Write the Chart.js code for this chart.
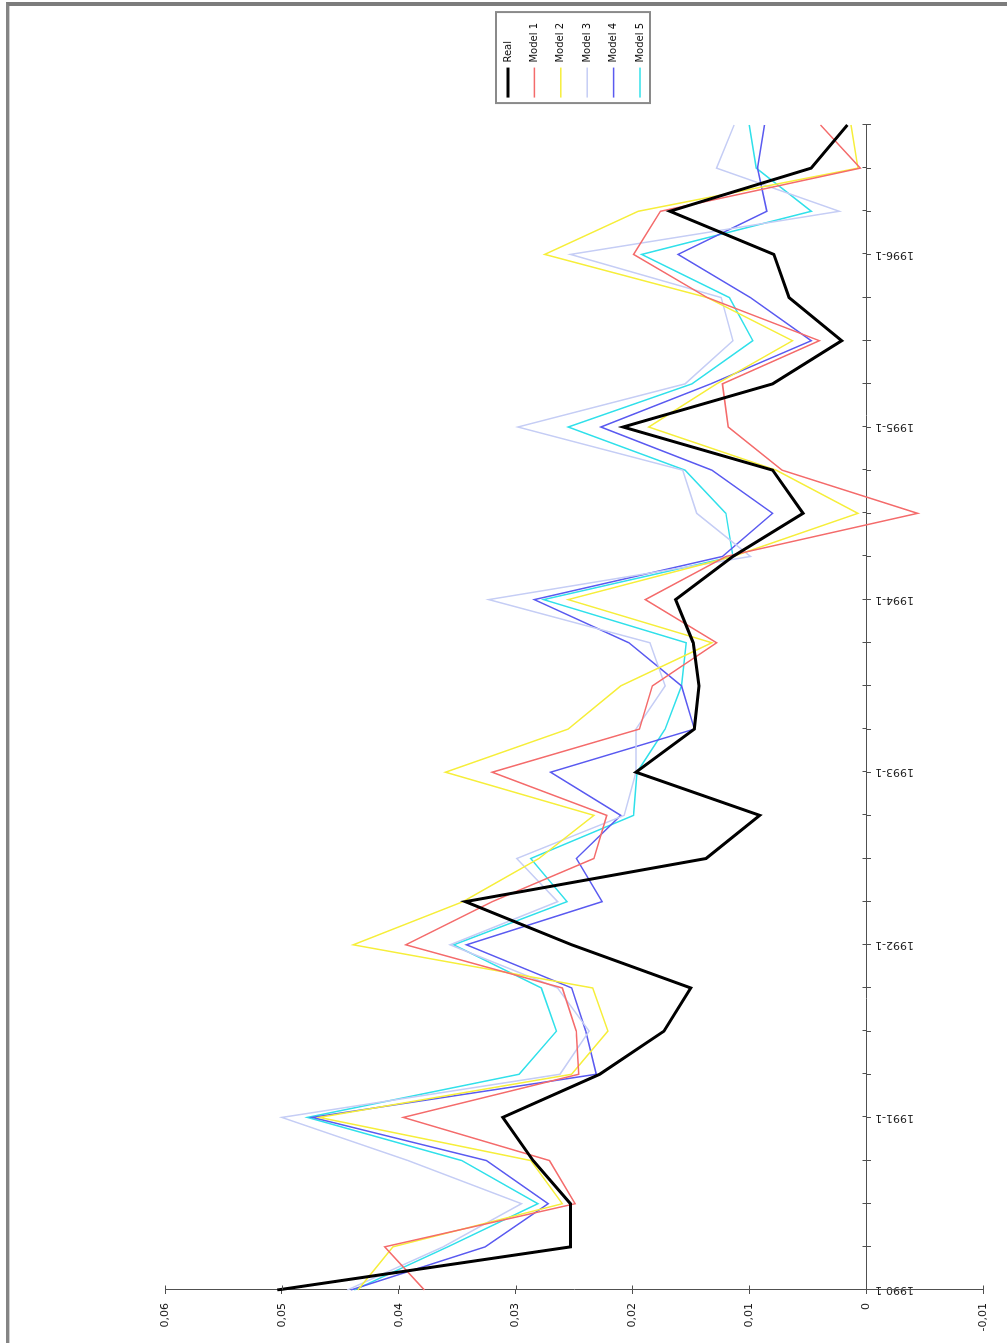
<!DOCTYPE html>
<html>
<head>
<meta charset="utf-8">
<script src="https://cdn.jsdelivr.net/npm/chart.js@4/dist/chart.umd.min.js"></script>
<style>
  html, body { margin: 0; padding: 0; width: 1007px; height: 1343px; overflow: hidden; background: #fff; }
  /* chart is laid out landscape and turned a quarter turn counter-clockwise */
  #wrap { position: absolute; left: 0; top: 0; width: 1343px; height: 1007px;
          transform-origin: 0 0; transform: translateY(1343px) rotate(-90deg); }
  #frame { position: absolute; left: 6px; top: 2px; right: 0; bottom: 0;
           border-top: 4px solid #7c7c7c; border-left: 3px solid #858585; pointer-events: none; }
  #frame::after { content: ''; position: absolute; left: 0; top: 0; bottom: 0; width: 1px; background: #d0d0d0; }
</style>
</head>
<body>
<div id="wrap"><canvas id="c" width="1343" height="1007" style="width:1343px;height:1007px"></canvas></div>
<div id="frame"></div>
<script>
// quarterly periods
const quarters = [
  '1990-1','1990-2','1990-3','1990-4',
  '1991-1','1991-2','1991-3','1991-4',
  '1992-1','1992-2','1992-3','1992-4',
  '1993-1','1993-2','1993-3','1993-4',
  '1994-1','1994-2','1994-3','1994-4',
  '1995-1','1995-2','1995-3','1995-4',
  '1996-1','1996-2','1996-3','1996-4'
];

// observed series
const real = [0.0504, 0.0253, 0.0253, 0.0285, 0.0311, 0.0228, 0.0173, 0.0150,
              0.0252, 0.0343, 0.0137, 0.0091, 0.0197, 0.0147, 0.0143, 0.0148,
              0.0163, 0.0114, 0.0054, 0.0080, 0.0208, 0.0080, 0.0021, 0.0066,
              0.0079, 0.0168, 0.0047, 0.0016];

// model estimates
const model1 = [0.0378, 0.0412, 0.0249, 0.0271, 0.0396, 0.0246, 0.0248, 0.0260,
                0.0394, 0.0320, 0.0233, 0.0222, 0.0320, 0.0194, 0.0183, 0.0128,
                0.0189, 0.0120, -0.0044, 0.0072, 0.0118, 0.0123, 0.0040, 0.0136,
                0.0199, 0.0176, 0.0005, 0.0039];
const model2 = [0.0435, 0.0405, 0.0260, 0.0287, 0.0468, 0.0252, 0.0221, 0.0234,
                0.0439, 0.0345, 0.0280, 0.0233, 0.0360, 0.0255, 0.0210, 0.0132,
                0.0255, 0.0114, 0.0007, 0.0077, 0.0186, 0.0128, 0.0063, 0.0136,
                0.0275, 0.0195, 0.0007, 0.0013];
const model3 = [0.0444, 0.0362, 0.0295, 0.0392, 0.0500, 0.0262, 0.0237, 0.0264,
                0.0356, 0.0264, 0.0299, 0.0207, 0.0197, 0.0197, 0.0172, 0.0185,
                0.0323, 0.0099, 0.0145, 0.0157, 0.0298, 0.0155, 0.0114, 0.0124,
                0.0253, 0.0023, 0.0128, 0.0113];
const model4 = [0.0441, 0.0326, 0.0272, 0.0325, 0.0474, 0.0231, 0.0240, 0.0252,
                0.0342, 0.0226, 0.0248, 0.0210, 0.0270, 0.0147, 0.0158, 0.0203,
                0.0284, 0.0123, 0.0080, 0.0132, 0.0227, 0.0133, 0.0047, 0.0099,
                0.0161, 0.0085, 0.0093, 0.0087];
const model5 = [0.0438, 0.0358, 0.0281, 0.0346, 0.0478, 0.0297, 0.0265, 0.0278,
                0.0353, 0.0256, 0.0287, 0.0199, 0.0196, 0.0172, 0.0158, 0.0154,
                0.0276, 0.0114, 0.0120, 0.0155, 0.0255, 0.0149, 0.0097, 0.0117,
                0.0192, 0.0047, 0.0094, 0.0100];

const seriesNames = ['Real', 'Model 1', 'Model 2', 'Model 3', 'Model 4', 'Model 5'];

// value axis range and tick step
const valueMin = -0.01;
const valueMax = 0.06;
const valueStep = 0.01;

const axisColor = '#505050';
const TICK = 4;

function fmtValue(v) {
  if (Math.abs(v) < 1e-9) return '0';
  return v.toFixed(2).replace('.', ',');
}

// draws the inner half of each tick mark and the frame round the legend
const axisExtras = {
  id: 'axisExtras',
  afterLayout(chart) {
    const lg = chart.legend;
    const shift = (chart.chartArea.right + 11) - lg.left;
    lg.left += shift;
    lg.right += shift;
  },
  afterDraw(chart) {
    const { ctx, scales: { x, y } } = chart;
    ctx.save();
    ctx.strokeStyle = axisColor;
    ctx.lineWidth = 1;
    ctx.beginPath();
    const zeroY = Math.round(y.getPixelForValue(0)) + 0.5;
    x.ticks.forEach((t, i) => {
      const px = Math.round(x.getPixelForTick(i)) + 0.5;
      ctx.moveTo(px, zeroY);
      ctx.lineTo(px, zeroY - TICK);
    });
    const axisX = Math.round(chart.chartArea.left) + 0.5;
    y.ticks.forEach((t, i) => {
      const py = Math.round(y.getPixelForTick(i)) + 0.5;
      ctx.moveTo(axisX, py);
      ctx.lineTo(axisX + TICK, py);
    });
    ctx.stroke();

    const lg = chart.legend;
    const pad = lg.options.labels.padding;
    const fs = lg.options.labels.font.size;
    const n = lg.legendItems.length;
    const colH = n * (fs + pad);
    const firstTop = (lg.top + pad + lg.bottom - colH) / 2;
    const bx = lg.left + pad - 5.5;
    const by = firstTop - 7;
    const bh = colH - pad + 12;
    const bw = 91;
    ctx.strokeStyle = '#8a8a8a';
    ctx.lineWidth = 2;
    ctx.strokeRect(bx, by, bw, bh);
    ctx.restore();
  }
};

Chart.defaults.font.family = "'DejaVu Sans', 'Liberation Sans', sans-serif";
Chart.defaults.color = '#1a1a1a';

const colors = ['#000000', '#f46b6b', '#f6ee3a', '#c5cdf5', '#5a5af0', '#30e0ea'];
const widths = [3, 1.5, 1.5, 1.5, 1.5, 1.5];
const values = [real, model1, model2, model3, model4, model5];

new Chart(document.getElementById('c'), {
  type: 'line',
  data: {
    labels: quarters,
    datasets: values.map((arr, k) => ({
      label: seriesNames[k],
      data: arr,
      borderColor: colors[k],
      backgroundColor: colors[k],
      borderWidth: widths[k],
      pointRadius: 0,
      tension: 0,
      fill: false,
      order: k === 0 ? 0 : 1
    }))
  },
  options: {
    responsive: false,
    animation: false,
    devicePixelRatio: 1,
    layout: { padding: { top: 165, bottom: 24, left: 0, right: 24 } },
    plugins: {
      tooltip: { enabled: false },
      legend: {
        position: 'right',
        labels: {
          usePointStyle: true,
          pointStyle: 'line',
          pointStyleWidth: 30,
          padding: 16.4,
          color: '#111',
          font: { size: 10 }
        }
      }
    },
    scales: {
      x: {
        type: 'category',
        position: { y: 0 },
        offset: false,
        grid: { drawOnChartArea: false, drawTicks: true, tickLength: TICK, color: axisColor },
        border: { display: true, color: axisColor, width: 1 },
        ticks: {
          autoSkip: false,
          minRotation: 90,
          maxRotation: 90,
          padding: 5,
          font: { size: 11 },
          callback: (v, i) => quarters[i].endsWith('-1') ? quarters[i] : ''
        }
      },
      y: {
        min: valueMin,
        max: valueMax,
        grid: { drawOnChartArea: false, drawTicks: true, tickLength: TICK, color: axisColor },
        border: { display: true, color: axisColor, width: 1 },
        ticks: {
          stepSize: valueStep,
          padding: 9,
          font: { size: 11 },
          callback: v => fmtValue(v)
        },
        afterFit: s => { s.width = 53; }
      }
    }
  },
  plugins: [axisExtras]
});
</script>
</body>
</html>
